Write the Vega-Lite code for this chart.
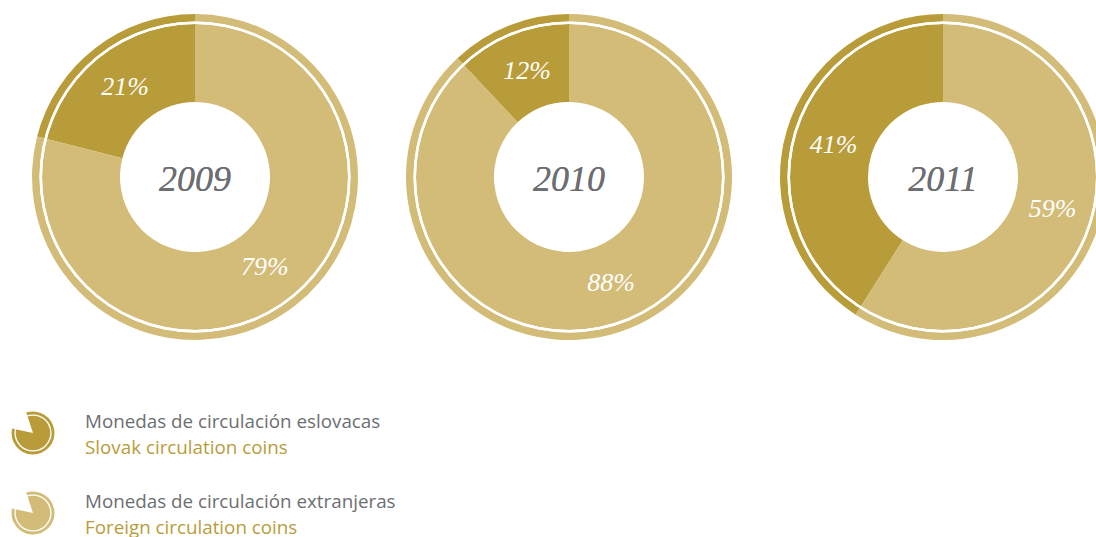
{
  "$schema": "https://vega.github.io/schema/vega-lite/v6.json",
  "padding": 0,
  "spacing": 0,
  "background": "white",
  "config": {"view": {"stroke": null}},
  "datasets": {
    "shares": [
      {"year": 2009, "series": "Slovak", "pct": 21},
      {"year": 2009, "series": "Foreign", "pct": 79},
      {"year": 2010, "series": "Slovak", "pct": 12},
      {"year": 2010, "series": "Foreign", "pct": 88},
      {"year": 2011, "series": "Slovak", "pct": 41},
      {"year": 2011, "series": "Foreign", "pct": 59}
    ],
    "legend": [
      {"series": "Slovak", "es": "Monedas de circulación eslovacas", "en": "Slovak circulation coins"},
      {"series": "Foreign", "es": "Monedas de circulación extranjeras", "en": "Foreign circulation coins"}
    ]
  },
  "vconcat": [
    {
      "width": 1096,
      "height": 354,
      "data": {"name": "shares"},
      "transform": [
        {"stack": "pct", "groupby": ["year"], "sort": [{"field": "series", "order": "ascending"}], "as": ["t0", "t1"]},
        {"calculate": "(datum.t0 + datum.t1) / 2", "as": "tmid"},
        {"calculate": "datum.pct + '%'", "as": "label"}
      ],
      "encoding": {
        "x": {"field": "year", "type": "ordinal", "scale": {"type": "point", "range": [195, 943], "padding": 0}, "axis": null}
      },
      "layer": [
        {
          "mark": {"type": "arc", "innerRadius": 75, "outerRadius": 163},
          "encoding": {
            "theta": {"field": "t0", "type": "quantitative", "stack": null, "scale": {"domain": [0, 100], "range": [0, 6.283185307179586]}},
            "theta2": {"field": "t1"},
            "color": {"field": "series", "type": "nominal", "scale": {"domain": ["Slovak", "Foreign"], "range": ["#B99C3A", "#D3BC78"]}, "legend": null}
          }
        },
        {
          "mark": {"type": "arc", "innerRadius": 153, "outerRadius": 155.5, "color": "white", "theta": 0, "theta2": 6.2832},
          "encoding": {}
        },
        {
          "mark": {"type": "text", "radius": 114, "font": "Liberation Serif", "fontStyle": "italic", "fontSize": 26, "color": "white", "align": "center", "baseline": "middle"},
          "encoding": {
            "theta": {"field": "tmid", "type": "quantitative", "stack": null},
            "text": {"field": "label"}
          }
        },
        {
          "mark": {"type": "text", "font": "Liberation Serif", "fontStyle": "italic", "fontSize": 36, "color": "#6D6E71", "align": "center", "baseline": "middle", "dy": 3},
          "encoding": {
            "text": {"field": "year", "type": "nominal"}
          }
        }
      ]
    },
    {
      "spacing": 19,
      "hconcat": [
        {
          "width": 66,
          "height": 183,
          "data": {"name": "legend"},
          "encoding": {
            "y": {"field": "series", "type": "nominal", "sort": ["Slovak", "Foreign"], "scale": {"type": "point", "range": [79, 159], "padding": 0}, "axis": null}
          },
          "layer": [
            {
              "mark": {"type": "arc", "outerRadius": 21.5, "innerRadius": 0, "theta": -0.32, "theta2": 4.92},
              "encoding": {
                "color": {"field": "series", "type": "nominal", "scale": {"domain": ["Slovak", "Foreign"], "range": ["#B99C3A", "#D3BC78"]}, "legend": null}
              }
            },
            {
              "mark": {"type": "arc", "outerRadius": 18.6, "innerRadius": 17.3, "theta": 0, "theta2": 6.2832, "color": "white"},
              "encoding": {}
            }
          ]
        },
        {
          "width": 500,
          "height": 183,
          "data": {"name": "legend"},
          "encoding": {
            "y": {"field": "series", "type": "nominal", "sort": ["Slovak", "Foreign"], "scale": {"type": "point", "range": [79, 159], "padding": 0}, "axis": null},
            "x": {"value": 0}
          },
          "layer": [
            {
              "mark": {"type": "text", "align": "left", "baseline": "middle", "dy": -11, "font": "Open Sans", "fontSize": 18.8, "color": "#6D6E71"},
              "encoding": {"text": {"field": "es"}}
            },
            {
              "mark": {"type": "text", "align": "left", "baseline": "middle", "dy": 15, "font": "Open Sans", "fontSize": 18.8, "color": "#B99C3A"},
              "encoding": {"text": {"field": "en"}}
            }
          ]
        }
      ]
    }
  ]
}
